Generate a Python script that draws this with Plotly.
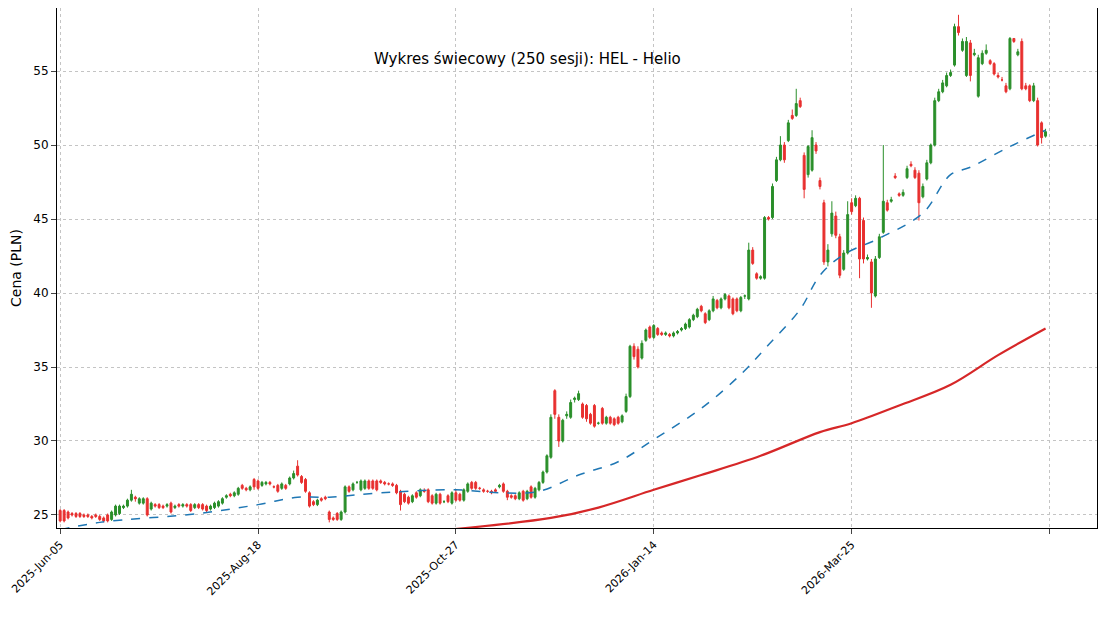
import plotly.graph_objs as go
import pandas as pd

# Sample data: 250 sessions
opens = [25.3, 25.3, 25.2, 25.1, 25.1, 25.1, 25.0, 25.0, 24.9, 25.0,
         24.9, 24.8, 25.0, 24.7, 25.0, 25.1, 25.5, 25.6, 26.0, 26.2,
         25.8, 25.8, 26.1, 25.4, 25.7, 25.7, 25.6, 25.6, 25.8, 25.5,
         25.7, 25.6, 25.7, 25.7, 25.5, 25.7, 25.7, 25.6, 25.4, 25.5,
         25.6, 25.8, 26.2, 26.4, 26.3, 26.4, 27.0, 26.8, 26.7, 27.4,
         27.3, 27.0, 27.1, 27.2, 26.9, 27.0, 26.8, 27.0, 27.1, 27.5,
         28.3, 27.6, 27.4, 26.5, 25.9, 25.7, 26.1, 26.2, 25.2, 24.8,
         25.1, 24.7, 25.2, 26.9, 26.7, 27.2, 26.7, 26.8, 27.3, 27.3,
         27.3, 27.3, 27.2, 27.1, 27.1, 27.0, 26.6, 26.4, 26.2, 25.9,
         26.5, 26.3, 26.6, 26.7, 26.3, 25.8, 26.4, 25.9, 26.3, 25.8,
         26.5, 26.4, 26.0, 26.6, 27.2, 27.2, 26.8, 26.7, 26.6, 26.6,
         26.7, 26.9, 27.1, 26.6, 26.3, 26.3, 26.1, 26.6, 26.1, 26.9,
         26.2, 26.7, 27.2, 27.9, 28.9, 33.4, 31.6, 30.0, 31.7, 31.6,
         32.8, 32.8, 32.5, 32.4, 31.8, 32.4, 31.2, 32.2, 31.2, 31.6,
         31.5, 31.6, 31.3, 32.0, 33.0, 36.4, 36.2, 35.6, 36.8, 37.7,
         37.0, 37.6, 37.3, 37.2, 37.2, 37.1, 37.3, 37.5, 37.6, 37.7,
         38.2, 38.4, 39.1, 38.6, 38.2, 38.8, 39.5, 39.0, 39.6, 39.8,
         39.6, 39.6, 38.8, 39.8, 39.6, 42.9, 41.3, 41.0, 41.0, 45.1,
         45.1, 47.6, 49.0, 50.0, 50.3, 52.0, 52.0, 53.0, 49.3, 48.0,
         48.3, 50.0, 47.6, 46.1, 42.1, 44.0, 45.2, 43.8, 41.6, 42.7,
         46.1, 45.9, 46.4, 44.9, 42.3, 42.1, 39.8, 42.4, 44.1, 46.1,
         46.2, 47.9, 46.7, 46.6, 47.8, 48.7, 48.3, 48.1, 46.5, 47.7,
         48.8, 50.0, 53.0, 53.6, 54.0, 54.7, 55.4, 58.0, 56.4, 54.7,
         56.9, 56.1, 53.3, 55.5, 56.2, 55.7, 55.5, 54.7, 54.4, 54.0,
         53.8, 57.2, 56.1, 57.0, 54.0, 54.0, 53.0, 53.0, 51.5, 50.6]
closes = [24.6, 24.6, 24.8, 25.0, 24.9, 24.9, 24.9, 24.9, 24.8, 24.9,
          24.7, 24.6, 24.6, 25.2, 25.6, 25.6, 25.6, 26.0, 26.4, 26.1,
          26.1, 26.1, 25.0, 25.8, 25.6, 25.5, 25.5, 25.7, 25.2, 25.6,
          25.6, 25.7, 25.6, 25.3, 25.7, 25.5, 25.4, 25.3, 25.6, 25.8,
          25.9, 26.1, 26.3, 26.3, 26.5, 26.8, 26.8, 26.7, 26.9, 26.9,
          26.8, 27.2, 27.2, 27.1, 26.9, 26.6, 27.1, 26.8, 27.5, 27.8,
          27.7, 27.2, 26.6, 25.6, 25.7, 26.0, 26.0, 26.1, 24.7, 24.7,
          24.7, 25.2, 26.9, 26.6, 27.1, 27.2, 27.3, 27.3, 26.8, 26.8,
          26.7, 27.2, 27.1, 27.1, 27.0, 26.5, 25.7, 25.9, 25.8, 26.3,
          26.2, 26.7, 26.6, 25.9, 25.8, 26.4, 25.8, 25.9, 25.9, 26.5,
          26.0, 26.0, 26.7, 27.1, 26.8, 26.8, 26.8, 26.6, 26.6, 26.5,
          26.6, 27.0, 26.6, 26.2, 26.2, 26.1, 26.5, 26.0, 26.6, 26.2,
          26.8, 27.2, 27.9, 29.0, 31.6, 31.8, 30.0, 31.4, 31.8, 32.6,
          32.9, 33.2, 31.6, 31.5, 31.2, 31.0, 31.2, 31.2, 31.6, 31.2,
          31.1, 31.2, 31.7, 33.0, 36.4, 35.7, 35.0, 36.6, 37.5, 37.0,
          37.8, 37.2, 37.2, 37.3, 37.1, 37.3, 37.4, 37.6, 37.9, 38.2,
          38.5, 38.9, 38.8, 38.0, 38.8, 39.6, 39.0, 39.6, 39.9, 39.0,
          38.6, 38.8, 39.7, 39.8, 42.9, 42.0, 41.0, 41.1, 45.1, 45.0,
          47.2, 49.0, 50.0, 49.0, 51.5, 51.8, 52.8, 52.6, 47.0, 49.9,
          50.5, 49.6, 47.2, 42.1, 42.9, 45.4, 43.9, 41.2, 42.7, 45.3,
          45.5, 46.4, 42.3, 42.3, 42.4, 40.0, 42.3, 43.8, 46.2, 45.6,
          46.3, 47.8, 46.6, 46.8, 48.4, 48.6, 47.8, 46.1, 47.2, 48.8,
          50.0, 53.0, 53.6, 54.2, 54.7, 54.9, 58.0, 57.6, 57.0, 57.0,
          54.7, 56.2, 55.9, 56.2, 56.4, 55.5, 54.8, 54.6, 54.4, 53.6,
          57.2, 57.0, 56.3, 53.8, 53.8, 53.0, 54.0, 50.0, 50.5, 50.9]
highs = [25.4, 25.4, 25.3, 25.2, 25.2, 25.2, 25.1, 25.1, 25.0, 25.1,
         25.0, 24.9, 25.1, 25.3, 25.7, 25.7, 25.7, 26.1, 26.7, 26.3,
         26.2, 26.2, 26.2, 25.9, 25.8, 25.8, 25.7, 25.8, 25.9, 25.7,
         25.8, 25.8, 25.8, 25.8, 25.8, 25.8, 25.8, 25.7, 25.7, 25.9,
         26.0, 26.2, 26.4, 26.5, 26.6, 26.9, 27.1, 26.9, 27.0, 27.5,
         27.4, 27.3, 27.3, 27.3, 27.0, 27.1, 27.2, 27.1, 27.6, 28.0,
         28.7, 27.7, 27.5, 26.6, 26.0, 26.1, 26.2, 26.3, 25.3, 24.9,
         25.2, 25.3, 27.0, 27.0, 27.2, 27.3, 27.4, 27.4, 27.4, 27.4,
         27.4, 27.4, 27.3, 27.2, 27.2, 27.1, 26.7, 26.5, 26.3, 26.4,
         26.6, 26.8, 26.8, 26.8, 26.4, 26.5, 26.5, 26.0, 26.4, 26.6,
         26.7, 26.5, 26.8, 27.2, 27.3, 27.3, 26.9, 26.8, 26.7, 26.7,
         26.8, 27.1, 27.2, 26.7, 26.4, 26.4, 26.6, 26.7, 26.7, 27.0,
         26.9, 27.3, 28.0, 29.1, 31.8, 33.5, 31.8, 31.5, 32.0, 32.8,
         33.0, 33.4, 32.6, 32.5, 31.9, 32.5, 31.3, 32.3, 31.7, 31.7,
         31.6, 31.7, 31.8, 33.2, 36.5, 36.6, 36.4, 36.8, 37.6, 37.8,
         37.9, 37.7, 37.4, 37.4, 37.3, 37.4, 37.5, 37.7, 38.0, 38.3,
         38.6, 39.0, 39.2, 38.7, 38.9, 39.8, 39.6, 39.7, 40.0, 39.9,
         39.7, 39.7, 39.8, 39.9, 43.4, 43.1, 41.4, 41.2, 45.2, 45.2,
         47.4, 49.2, 50.6, 50.2, 51.7, 52.4, 53.8, 53.2, 49.5, 50.0,
         51.0, 50.2, 47.8, 46.3, 43.3, 46.2, 45.5, 44.0, 42.9, 46.2,
         46.4, 46.6, 46.5, 45.1, 42.6, 42.3, 42.5, 44.0, 50.0, 46.3,
         46.5, 48.1, 46.8, 47.0, 48.6, 48.9, 48.5, 48.3, 47.4, 49.0,
         50.1, 53.2, 53.8, 54.4, 54.9, 55.1, 58.2, 58.8, 57.2, 57.3,
         57.1, 56.5, 56.1, 56.4, 56.8, 55.8, 55.6, 54.9, 54.6, 54.2,
         57.3, 57.2, 56.5, 57.2, 54.2, 54.1, 54.2, 53.2, 51.6, 51.1]
lows = [24.5, 24.5, 24.7, 24.9, 24.8, 24.8, 24.8, 24.8, 24.7, 24.8,
        24.6, 24.5, 24.5, 24.6, 24.9, 25.0, 25.4, 25.5, 25.9, 25.9,
        25.7, 25.7, 24.9, 25.3, 25.5, 25.4, 25.4, 25.5, 25.1, 25.4,
        25.5, 25.5, 25.5, 25.2, 25.4, 25.4, 25.3, 25.2, 25.3, 25.4,
        25.5, 25.7, 26.1, 26.2, 26.2, 26.3, 26.7, 26.6, 26.6, 26.7,
        26.7, 26.9, 27.0, 27.0, 26.8, 26.5, 26.7, 26.7, 27.0, 27.4,
        27.6, 27.1, 26.5, 25.5, 25.6, 25.6, 25.9, 26.0, 24.5, 24.6,
        24.6, 24.6, 25.1, 26.5, 26.6, 27.1, 26.6, 26.7, 26.7, 26.7,
        26.6, 27.1, 27.0, 27.0, 26.9, 26.4, 25.3, 25.8, 25.7, 25.8,
        26.1, 26.2, 26.5, 25.8, 25.7, 25.7, 25.7, 25.8, 25.8, 25.7,
        25.9, 25.9, 25.9, 26.5, 26.7, 26.7, 26.7, 26.5, 26.5, 26.4,
        26.5, 26.8, 26.5, 26.0, 26.1, 26.0, 26.0, 25.9, 26.0, 26.1,
        26.1, 26.6, 27.1, 27.8, 28.8, 31.5, 29.6, 29.9, 31.5, 31.5,
        32.6, 32.7, 31.5, 31.3, 31.1, 30.9, 31.1, 31.1, 31.1, 31.1,
        31.0, 31.1, 31.2, 31.9, 32.9, 35.5, 34.9, 35.5, 36.7, 36.9,
        36.9, 37.1, 37.1, 37.1, 37.0, 37.0, 37.2, 37.4, 37.5, 37.6,
        38.1, 38.3, 38.7, 37.9, 38.1, 38.7, 38.9, 38.9, 39.5, 38.9,
        38.5, 38.7, 38.7, 39.6, 39.5, 41.9, 40.9, 40.9, 40.9, 44.9,
        45.0, 47.5, 48.9, 48.8, 50.2, 51.7, 51.9, 52.5, 46.4, 47.8,
        48.2, 49.4, 47.0, 41.9, 41.8, 43.8, 43.7, 41.0, 41.5, 42.6,
        45.3, 45.8, 41.0, 42.0, 42.2, 39.0, 39.7, 42.3, 44.0, 45.5,
        46.1, 47.7, 46.5, 46.5, 47.7, 48.5, 47.7, 44.9, 46.4, 47.6,
        48.7, 49.9, 52.9, 53.5, 53.9, 54.6, 55.3, 57.4, 56.3, 54.6,
        54.3, 56.0, 53.2, 55.4, 56.1, 55.4, 54.7, 54.5, 54.3, 53.5,
        53.7, 56.9, 56.0, 53.7, 53.7, 52.9, 52.9, 49.9, 50.1, 50.5]

# Moving averages at selected sessions
ma_fast_idx = [0, 10, 35, 50, 60, 68, 81, 100, 111, 121, 131, 141, 150, 162, 172,
               179, 187, 192, 198, 207, 218, 225, 230, 240, 249]
ma_fast = [24.0, 24.5, 25.1, 25.7, 26.2, 26.2, 26.5, 26.7, 26.5, 26.6, 27.7, 28.6,
           30.1, 32.2, 34.5, 36.5, 38.9, 41.2, 42.6, 43.7, 45.4, 48.0, 48.5, 49.9, 51.0]
ma_slow_idx = [98, 124, 136, 150, 162, 177, 192, 200, 212, 225, 237, 249]
ma_slow = [24.0, 24.8, 25.5, 26.7, 27.7, 29.0, 30.6, 31.2, 32.4, 33.8, 35.8, 37.6]

tick_pos = [0, 50, 100, 150, 200, 250]
tick_labels = ['2025-Jun-05', '2025-Aug-18', '2025-Oct-27', '2026-Jan-14', '2026-Mar-25', '']

df = pd.DataFrame({'open': opens, 'high': highs, 'low': lows, 'close': closes})

# Create the chart
trace = go.Candlestick(x=df.index,
                       open=df['open'],
                       high=df['high'],
                       low=df['low'],
                       close=df['close'],
                       increasing=dict(line=dict(color='#2a8f2a', width=1), fillcolor='#2a8f2a'),
                       decreasing=dict(line=dict(color='#e8302f', width=1), fillcolor='#e8302f'),
                       whiskerwidth=0, showlegend=False)
fast = go.Scatter(x=ma_fast_idx, y=ma_fast, mode='lines', line_shape='spline',
                  line=dict(color='#1f77b4', width=1.5, dash='dash'), showlegend=False)
slow = go.Scatter(x=ma_slow_idx, y=ma_slow, mode='lines', line_shape='spline',
                  line=dict(color='#d62728', width=2.2), showlegend=False)
data = [trace, fast, slow]
axis_style = dict(showline=True, linecolor='black', mirror=True, ticks='outside', automargin=False,
                  showgrid=True, gridcolor='#c4c4c4', griddash='dot', gridwidth=1, zeroline=False)
layout = go.Layout(width=1100, height=612,  # page body adds 8px offset
                   margin=dict(l=49, r=11, t=0, b=92),
                   plot_bgcolor='white', paper_bgcolor='white',
                   font=dict(family='DejaVu Sans', size=12, color='black'),
                   xaxis=dict(tickvals=tick_pos, ticktext=tick_labels, tickangle=-45,
                              tickfont=dict(size=11),
                              range=[-0.8, 262], rangeslider=dict(visible=False), **axis_style),
                   yaxis=dict(title=dict(text='Cena (PLN)', standoff=8), range=[24.12, 59.26],
                              dtick=5, **axis_style),
                   annotations=[dict(text='Wykres świecowy (250 sesji): HEL - Helio',
                                     x=0.452, y=0.923, xref='paper', yref='paper',
                                     showarrow=False, font=dict(size=15))])
fig = go.Figure(data=data, layout=layout)

# Save the chart
fig.write_html('out.html')
